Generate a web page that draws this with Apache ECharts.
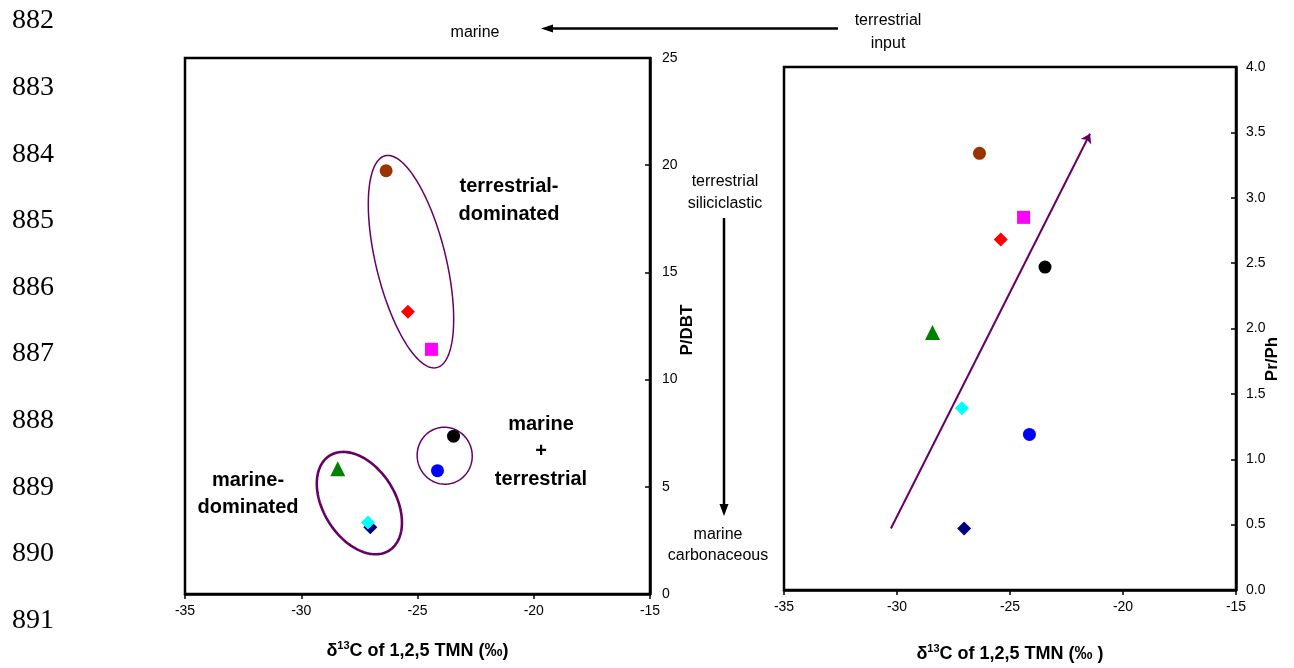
<!DOCTYPE html>
<html>
<head>
<meta charset="utf-8">
<script src="https://cdn.jsdelivr.net/npm/echarts@6/dist/echarts.min.js"></script>
<style>
html,body{margin:0;padding:0;background:#fff;}
#chart{width:1294px;height:668px;}
</style>
</head>
<body>
<div id="chart"></div>
<script>
// ---- data ----
const d13C   = [-26.35, -25.41, -24.40, -23.45, -24.14, -28.43, -27.03, -27.13]; // δ13C of 1,2,5 TMN (‰)
const pDBT   = [19.74, 13.17, 11.41, 7.36, 5.75, 5.84, 3.11, 3.34];              // P/DBT
const prPh   = [3.34, 2.68, 2.85, 2.47, 1.19, 1.97, 0.47, 1.39];                 // Pr/Ph
const xTicks = [-35, -30, -25, -20, -15];
const pdbtTicks = [0, 5, 10, 15, 20, 25];
const prphTicks = [0.0, 0.5, 1.0, 1.5, 2.0, 2.5, 3.0, 3.5, 4.0];
const trendStart = [-30.27, 0.47];
const trendEnd   = [-21.46, 3.49];
const lineNumbers = ['882','883','884','885','886','887','888','889','890','891'];

// ---- styles ----
const sampleColors  = ['#993300', '#FF0000', '#FF00FF', '#000000', '#0000FF', '#008000', '#000080', '#00FFFF'];
const sampleSymbols = ['circle', 'diamond', 'rect', 'circle', 'circle', 'triangle', 'diamond', 'diamond'];
const sampleSizes   = [13, 14, 13, 13, 13, 15, 14, 14];
const PURPLE = '#660066';
const SANS = 'Liberation Sans, Arial, sans-serif';

// group outlines on the left plot (centre in data units, semi-axes in px, tilt of major axis from vertical)
const groupOutlines = [
  {center: [-25.28, 15.50], a: 109, b: 35,   tilt: 13.7, width: 1.5},
  {center: [-23.83, 6.45],  a: 28.5, b: 27.5, tilt: 10,  width: 1.5},
  {center: [-27.50, 4.24],  a: 56,  b: 36,   tilt: 32,  width: 2.6}
];

function pts(yArr) {
  return d13C.map((x, i) => ({
    value: [x, yArr[i]],
    symbol: sampleSymbols[i],
    symbolSize: sampleSizes[i],
    itemStyle: {color: sampleColors[i], opacity: 1}
  }));
}

function xAxisDef(gridIndex, title, gap) {
  return {
    gridIndex, type: 'value', min: xTicks[0], max: xTicks[xTicks.length - 1], interval: 5,
    axisLine: {show: true, onZero: false, lineStyle: {color: '#000', width: 2.5}},
    axisTick: {show: true, length: 5, lineStyle: {color: '#000', width: 1.5}},
    axisLabel: {color: '#000', fontSize: 14, fontFamily: SANS, margin: 10},
    splitLine: {show: false},
    name: '{b|δ}{s|13}{b|' + title + '}',
    nameLocation: 'middle', nameGap: gap,
    nameTextStyle: {
      rich: {
        b: {fontSize: 18, fontWeight: 'bold', fontFamily: SANS, color: '#000', lineHeight: 22, verticalAlign: 'bottom'},
        s: {fontSize: 11, fontWeight: 'bold', fontFamily: SANS, color: '#000', lineHeight: 13, verticalAlign: 'bottom', padding: [0, 0, 9, 0]}
      }
    }
  };
}

function yAxisDef(gridIndex, ticks, fmt, margin) {
  return {
    gridIndex, type: 'value', position: 'right',
    min: ticks[0], max: ticks[ticks.length - 1], interval: ticks[1] - ticks[0],
    axisLine: {show: true, onZero: false, lineStyle: {color: '#000', width: 2.5}},
    axisTick: {show: true, inside: true, length: 5, lineStyle: {color: '#000', width: 1.5}},
    axisLabel: {color: '#000', fontSize: 14, fontFamily: SANS, margin: margin, formatter: fmt},
    splitLine: {show: false}
  };
}

const graphics = [];
// manuscript line numbers
lineNumbers.forEach((t, i) => {
  graphics.push({type: 'text', left: 12, top: 23 + i * 66.6 - 16,
    style: {text: t, font: '28px "Liberation Serif", "Times New Roman", serif', fill: '#000'}});
});
function txt(text, x, y, size, bold, rot) {
  graphics.push({type: 'text', x: x, y: y, rotation: rot || 0,
    style: {text: text, fill: '#000', textAlign: 'center', textVerticalAlign: 'middle',
      font: (bold ? 'bold ' : '') + size + 'px ' + SANS}});
}
// top arrow
graphics.push({type: 'line', shape: {x1: 838, y1: 28.5, x2: 550, y2: 28.5}, style: {stroke: '#000', lineWidth: 2.5}});
graphics.push({type: 'polygon', shape: {points: [[541, 28.5], [553, 24.5], [553, 32.5]]}, style: {fill: '#000'}});
txt('marine', 475, 33, 16, false);
txt('terrestrial', 888, 21, 16, false);
txt('input', 888, 44, 16, false);
// vertical arrow
graphics.push({type: 'line', shape: {x1: 724, y1: 218, x2: 724, y2: 506}, style: {stroke: '#000', lineWidth: 2.5}});
graphics.push({type: 'polygon', shape: {points: [[724, 516], [719.5, 504], [728.5, 504]]}, style: {fill: '#000'}});
txt('terrestrial', 725, 182, 16, false);
txt('siliciclastic', 725, 204, 16, false);
txt('marine', 718, 535, 16, false);
txt('carbonaceous', 718, 556, 16, false);
// region labels
txt('terrestrial-', 509, 186, 20, true);
txt('dominated', 509, 214, 20, true);
txt('marine', 541, 424, 20, true);
txt('+', 541, 451, 20, true);
txt('terrestrial', 541, 479, 20, true);
txt('marine-', 248, 480, 20, true);
txt('dominated', 248, 507, 20, true);
// y-axis titles
txt('P/DBT', 687, 330, 17, true, Math.PI / 2);
txt('Pr/Ph', 1272, 359, 17, true, Math.PI / 2);

const option = {
  backgroundColor: '#fff',
  animation: false,
  grid: [
    {left: 185, top: 58, width: 465, height: 536, show: true, borderColor: '#000', borderWidth: 2.5, backgroundColor: 'transparent'},
    {left: 784, top: 67, width: 452, height: 524, show: true, borderColor: '#000', borderWidth: 2.5, backgroundColor: 'transparent'}
  ],
  xAxis: [
    xAxisDef(0, 'C of 1,2,5 TMN (‰)', 44),
    xAxisDef(1, 'C of 1,2,5 TMN (‰ )', 51)
  ],
  yAxis: [
    yAxisDef(0, pdbtTicks, v => String(v), 12),
    yAxisDef(1, prphTicks, v => v.toFixed(1), 10)
  ],
  series: [
    {
      type: 'custom', xAxisIndex: 0, yAxisIndex: 0, silent: true, z: 1,
      data: groupOutlines.map(o => o.center),
      renderItem: function (params, api) {
        const o = groupOutlines[params.dataIndex];
        const c = api.coord([api.value(0), api.value(1)]);
        const th = o.tilt * Math.PI / 180;
        const mj = [-Math.sin(th), -Math.cos(th)];
        const mn = [Math.cos(th), -Math.sin(th)];
        const p = [];
        for (let k = 0; k < 160; k++) {
          const t = 2 * Math.PI * k / 160;
          const ca = o.a * Math.cos(t), sb = o.b * Math.sin(t);
          p.push([c[0] + ca * mj[0] + sb * mn[0], c[1] + ca * mj[1] + sb * mn[1]]);
        }
        return {type: 'polygon', shape: {points: p},
          style: {fill: 'none', stroke: PURPLE, lineWidth: o.width}};
      }
    },
    {
      type: 'scatter', xAxisIndex: 0, yAxisIndex: 0, z: 3, silent: true,
      data: pts(pDBT)
    },
    {
      type: 'lines', coordinateSystem: 'cartesian2d', xAxisIndex: 1, yAxisIndex: 1, z: 2, silent: true,
      symbol: ['none', 'arrow'], symbolSize: 9,
      lineStyle: {color: PURPLE, width: 2, opacity: 1, curveness: 0},
      data: [{coords: [trendStart, trendEnd]}]
    },
    {
      type: 'scatter', xAxisIndex: 1, yAxisIndex: 1, z: 3, silent: true,
      data: pts(prPh)
    }
  ],
  graphic: graphics
};

const chart = echarts.init(document.getElementById('chart'), null, {renderer: 'canvas'});
chart.setOption(option);
</script>
</body>
</html>
